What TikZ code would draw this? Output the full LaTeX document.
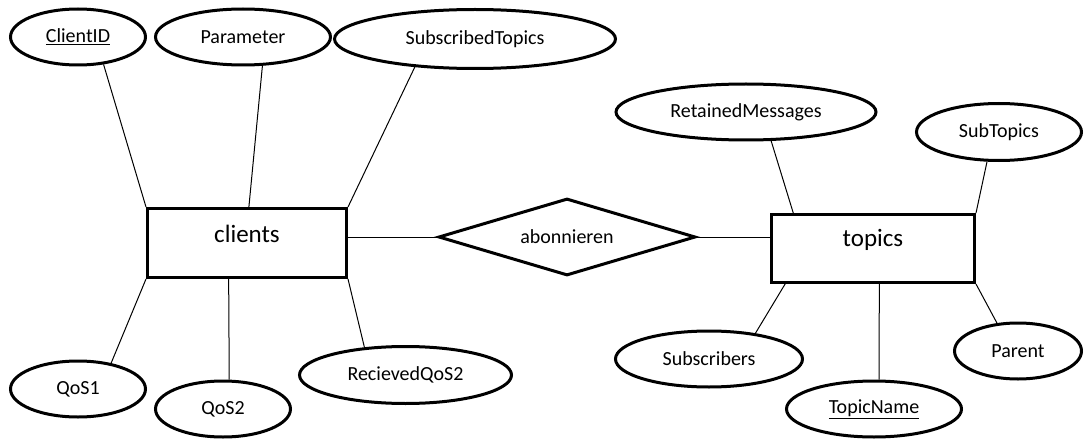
\documentclass[tikz,border=0pt]{standalone}
\usepackage{fontspec}
\setmainfont{Carlito}
\usetikzlibrary{shapes.geometric}

\begin{document}
\begin{tikzpicture}[x=1pt,y=-1pt]

  %Styles for picture
  \tikzset
  {
  attr/.style={ellipse, draw, line width=3pt, inner sep=0pt, minimum height=56pt, font=\fontsize{20}{24}\selectfont},
  entity/.style={rectangle, draw, line width=3pt, inner sep=0pt},
  entitytext/.style={font=\fontsize{25}{30}\selectfont, yshift=9pt},
  relation/.style={diamond, draw, line width=3pt, inner sep=0pt, aspect=3.3, minimum width=257pt, minimum height=77pt, font=\fontsize{20}{24}\selectfont},
  link/.style={line width=1pt},
  }

  \useasboundingbox (0,0) rectangle (1084,441);

  % Nodes
  \node[entity, minimum width=199pt, minimum height=69pt, label={[entitytext]center:clients}] (clients) at (247,243) {};
  \node[entity, minimum width=203pt, minimum height=68pt, label={[entitytext]center:topics}] (topics) at (873,248.5) {};
  \node[relation] (abonnieren) at (567,237) {abonnieren};

  \node[attr, minimum width=135pt] (ClientID) at (78,37) {\underline{ClientID}};
  \node[attr, minimum width=175pt] (Parameter) at (243,37) {Parameter};
  \node[attr, minimum width=281pt, minimum height=59pt] (SubscribedTopics) at (475,39) {SubscribedTopics};
  \node[attr, minimum width=135pt] (QoS1) at (78,389) {QoS1};
  \node[attr, minimum width=135pt] (QoS2) at (223,409) {QoS2};
  \node[attr, minimum width=212pt, minimum height=57pt] (RecievedQoS2) at (405.5,375) {RecievedQoS2};

  \node[attr, minimum width=260pt] (RetainedMessages) at (746,112) {RetainedMessages};
  \node[attr, minimum width=165pt, minimum height=57pt] (SubTopics) at (999,132) {SubTopics};
  \node[attr, minimum width=187pt] (Subscribers) at (709,359) {Subscribers};
  \node[attr, minimum width=175pt] (TopicName) at (874,409) {\underline{TopicName}};
  \node[attr, minimum width=127pt] (Parent) at (1018,351) {Parent};

  % Edges
  \draw[link] (ClientID.313) -- (clients.north west);
  \draw[link] (Parameter.304) -- (clients.87);
  \draw[link] (SubscribedTopics.205) -- (clients.north east);
  \draw[link] (QoS1.38) -- (clients.south west);
  \draw[link] (QoS2.78) -- (clients.243);
  \draw[link] (RecievedQoS2.146) -- (clients.south east);
  \draw[link] (abonnieren.west) -- (abonnieren.west -| clients.east);
  \draw[link] (abonnieren.east) -- (abonnieren.east -| topics.west);
  \draw[link] (RetainedMessages.311) -- (topics.156);
  \draw[link] (SubTopics.248) -- (topics.north east);
  \draw[link] (Subscribers.29) -- (topics.202);
  \draw[link] (TopicName.80) -- (topics.280);
  \draw[link] (Parent.127) -- (topics.south east);
\end{tikzpicture}
\end{document}
